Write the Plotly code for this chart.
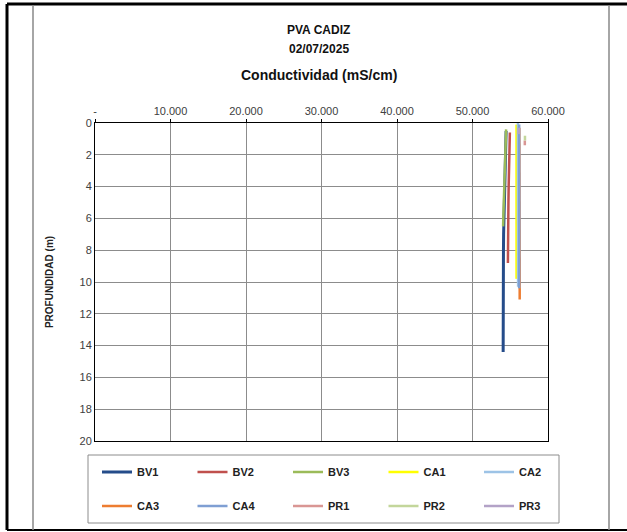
import plotly.graph_objects as go

# depth (m) and conductivity (mS/cm), one pair of lists per point
bv1_depth = [0.5, 1, 2, 3, 4, 5, 6, 7, 8, 9, 10, 11, 12, 13, 14, 14.4]
bv1_cond = [54450, 54420, 54360, 54300, 54250, 54200, 54150, 54120, 54100, 54090, 54080, 54070, 54070, 54060, 54060, 54060]

bv2_depth = [0.6, 1, 2, 3, 4, 5, 6, 7, 8, 8.8]
bv2_cond = [54950, 54920, 54860, 54820, 54790, 54760, 54740, 54720, 54700, 54690]

bv3_depth = [0.4, 1, 2, 3, 4, 5, 6, 6.5]
bv3_cond = [54450, 54400, 54330, 54260, 54200, 54140, 54080, 54050]

ca1_depth = [0.1, 1, 2, 3, 4, 5, 6, 7, 8, 9, 9.8]
ca1_cond = [55830, 55830, 55830, 55830, 55830, 55830, 55830, 55830, 55830, 55830, 55830]

ca2_depth = [0, 1, 2, 3, 4, 5, 6, 7, 8, 9, 10, 10.3]
ca2_cond = [56020, 56030, 56030, 56030, 56030, 56030, 56030, 56030, 56030, 56030, 56030, 56040]

ca3_depth = [0.3, 1, 2, 3, 4, 5, 6, 7, 8, 9, 10, 11.1]
ca3_cond = [56200, 56200, 56200, 56200, 56200, 56200, 56200, 56210, 56210, 56220, 56230, 56250]

ca4_depth = [0.1, 1, 2, 3, 4, 5, 6, 7, 8, 9, 10, 10.4]
ca4_cond = [56180, 56200, 56200, 56200, 56200, 56200, 56200, 56200, 56200, 56190, 56180, 56180]

pr1_depth = [1.1, 1.2, 1.3, 1.4]
pr1_cond = [56930, 56930, 56930, 56930]

pr2_depth = [0.8, 0.9, 1.0, 1.1]
pr2_cond = [56950, 56950, 56950, 56950]

pr3_depth = [0.3, 0.5, 0.7]
pr3_cond = [56120, 56120, 56120]

x_ticks = [0, 10000, 20000, 30000, 40000, 50000, 60000]
x_labels = ["-", "10.000", "20.000", "30.000", "40.000", "50.000", "60.000"]
y_ticks = [0, 2, 4, 6, 8, 10, 12, 14, 16, 18, 20]

series = [
    ("BV1", bv1_cond, bv1_depth, "#254C8A", 3, "legend"),
    ("BV2", bv2_cond, bv2_depth, "#C0504D", 2.5, "legend"),
    ("BV3", bv3_cond, bv3_depth, "#9BBB59", 2.5, "legend"),
    ("CA1", ca1_cond, ca1_depth, "#FFFF00", 2.5, "legend"),
    ("CA2", ca2_cond, ca2_depth, "#9DC3E6", 2.5, "legend"),
    ("CA3", ca3_cond, ca3_depth, "#ED7D31", 2.5, "legend2"),
    ("CA4", ca4_cond, ca4_depth, "#7F9FD3", 2.5, "legend2"),
    ("PR1", pr1_cond, pr1_depth, "#D99694", 2.5, "legend2"),
    ("PR2", pr2_cond, pr2_depth, "#C3D69B", 2.5, "legend2"),
    ("PR3", pr3_cond, pr3_depth, "#B3A2C7", 2.5, "legend2"),
]

fig = go.Figure()
for name, xs, ys, color, w, leg in series:
    fig.add_trace(go.Scatter(x=xs, y=ys, name=name, mode="lines", legend=leg,
                             line=dict(color=color, width=w)))

FONT = "Liberation Sans, Arial, sans-serif"

# pixel positions converted to paper fractions of the plot area
def px(v):
    return (v - 95) / 453

def py(v):
    return (441 - v) / 318

# anchored on the right, past the plot area, so five entries fit in one row
legend_style = dict(orientation="h", xanchor="right", yanchor="middle",
                    entrywidth=50.5, entrywidthmode="pixels", borderwidth=0,
                    bgcolor="rgba(0,0,0,0)",
                    font=dict(size=11, color="#222222", family=FONT, weight="bold"))

fig.update_layout(
    width=627, height=532,
    margin=dict(l=95, r=79, t=123, b=91, autoexpand=False),
    paper_bgcolor="white", plot_bgcolor="white",
    font=dict(family=FONT, color="#333333", size=11),
    showlegend=True,
    legend=dict(x=px(575), y=py(472), **legend_style),
    legend2=dict(x=px(575), y=py(506), **legend_style),
)

fig.update_xaxes(range=[0, 60000], side="top", tickvals=x_ticks, ticktext=x_labels,
                 showgrid=True, gridcolor="#8c8c8c", gridwidth=1,
                 showline=True, linecolor="black", linewidth=1, mirror=True,
                 ticks="outside", ticklen=3, tickcolor="black", zeroline=False,
                 tickfont=dict(size=11, color="#404040"))
fig.update_yaxes(range=[20, 0], tickvals=y_ticks,
                 showgrid=True, gridcolor="#8c8c8c", gridwidth=1,
                 showline=True, linecolor="black", linewidth=1, mirror=True,
                 zeroline=False, tickfont=dict(size=11, color="#404040"),
                 title=dict(text="<b>PROFUNDIDAD (m)</b>", standoff=24,
                            font=dict(size=10, color="#222222")))

# titles
fig.add_annotation(text="<b>PVA CADIZ</b>", xref="paper", yref="paper", x=0.494, y=py(30),
                   yanchor="middle", showarrow=False, font=dict(size=12, color="#111111"))
fig.add_annotation(text="<b>02/07/2025</b>", xref="paper", yref="paper", x=0.494, y=py(49),
                   yanchor="middle", showarrow=False, font=dict(size=12, color="#111111"))
fig.add_annotation(text="<b>Conductividad (mS/cm)</b>", xref="paper", yref="paper", x=0.494, y=py(75),
                   yanchor="middle", showarrow=False, font=dict(size=14, color="#111111"))

# legend box
fig.add_shape(type="rect", xref="paper", yref="paper", x0=px(88), y0=py(455), x1=px(559), y1=py(523),
              line=dict(color="#8c8c8c", width=1), fillcolor="rgba(0,0,0,0)")

# outer frame
frame = [
    (px(7), py(4), px(627), py(4), "black", 3),
    (px(7), py(4), px(7), py(530), "black", 3),
    (px(7), py(530), px(627), py(530), "black", 2),
    (px(33), py(5), px(33), py(530), "#888888", 1.5),
    (px(609), py(5), px(609), py(530), "#888888", 1.5),
]
for x0, y0, x1, y1, c, w in frame:
    fig.add_shape(type="line", xref="paper", yref="paper", x0=x0, y0=y0, x1=x1, y1=y1,
                  line=dict(color=c, width=w), layer="above")

# drop the default page margin so the figure sits at the window's corner
fig.write_html("out.html", config={"displayModeBar": False},
               post_script="document.body.style.margin='0';")
